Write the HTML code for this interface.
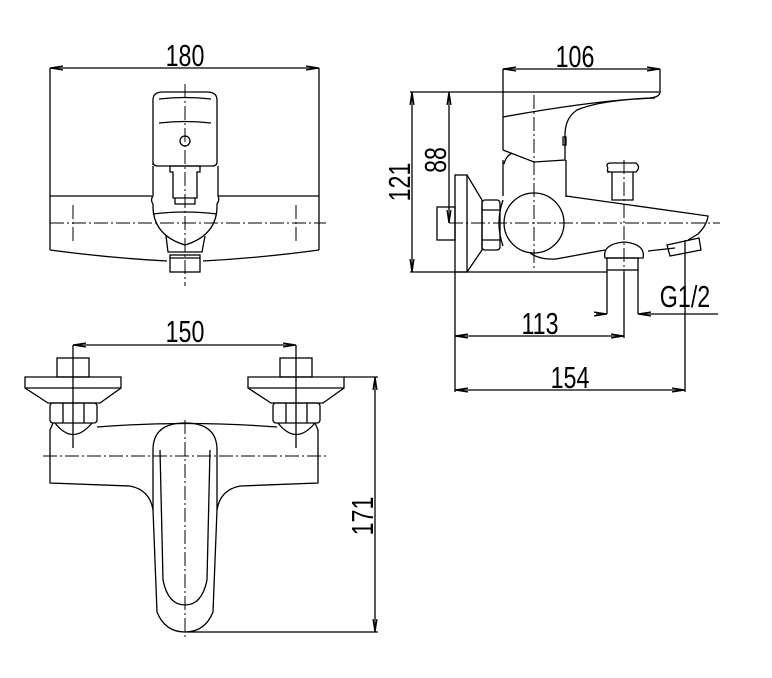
<!DOCTYPE html>
<html><head><meta charset="utf-8"><style>
html,body{margin:0;padding:0;background:#fff;}
svg{display:block;}
</style></head><body>
<svg width="772" height="678" viewBox="0 0 772 678" xmlns="http://www.w3.org/2000/svg">
<defs>
<marker id="a" viewBox="0 0 10 6" refX="10" refY="3" markerWidth="10" markerHeight="6" orient="auto-start-reverse"><path d="M0,1.5 L10,3 L0,4.5" fill="none" stroke="#000" stroke-width="1"/></marker>
</defs>
<g fill="none" stroke="#000" stroke-width="1.3">
<line x1="50" y1="68" x2="319" y2="68" marker-start="url(#a)" marker-end="url(#a)"/>
<line x1="50" y1="68" x2="50" y2="250"/><line x1="319" y1="68" x2="319" y2="250"/>
<line x1="50" y1="196" x2="152" y2="196"/><line x1="218" y1="196" x2="319" y2="196"/>
<path d="M50,250 Q110,258 167,261 M203,261 Q260,258 319,250"/>
<path d="M153,165 L153,100 Q153,92 163,92 L207,92 Q217,92 217,100 L217,162 Q217,166 212,166 L158,166 Q153,166 153,162"/>
<path d="M159,99 Q185,96 211,99 M159,123 Q185,120 211,123"/>
<circle cx="185" cy="141" r="5"/>
<path d="M153,166 L153,196 Q150,200 153,204 Q152,235 185,245 Q218,235 217,204 Q220,200 218,196 L218,166"/>
<path d="M170,166 L200,166 L200,172 L197,172 L197,198 L173,198 L173,172 L170,172 Z M175,198 L175,204 L195,204 L195,198"/>
<path d="M153,214 Q185,210 217,214"/>
<path d="M166,236 L168,252 L202,252 L205,236"/>
<rect x="170" y="255" width="30" height="17"/>
<line x1="170" y1="258" x2="200" y2="258"/>
<line x1="503" y1="69" x2="660" y2="69" marker-start="url(#a)" marker-end="url(#a)"/>
<line x1="503" y1="69" x2="503" y2="150"/><line x1="660" y1="69" x2="660" y2="92"/>
<line x1="410" y1="92" x2="660" y2="92"/>
<line x1="412" y1="92" x2="412" y2="272" marker-start="url(#a)" marker-end="url(#a)"/>
<line x1="449" y1="92" x2="449" y2="223" marker-start="url(#a)" marker-end="url(#a)"/>
<line x1="410" y1="272" x2="607" y2="272"/>
<path d="M503,117 Q590,101 650,98 Q660,97 660,92 M655,98 Q600,100 577,110 Q565,118 565,135 L565,160 L534,162 L503,150"/>
<rect x="563" y="137" width="3" height="8"/>
<path d="M503,160 L503,196 M566,160 L566,197 M504,164 Q506,156 512,153"/>
<circle cx="534" cy="223" r="30"/>
<path d="M503,200 Q495,223 503,246 M530,253 Q540,260 556,259"/>
<path d="M566,196 L708,216 Q707,225 698,234 L688,240 M675,248 L648,251 M605,250 L556,259"/>
<rect x="455" y="175" width="12" height="97"/>
<path d="M467,175 L482,200 L482,250 L467,272"/>
<rect x="482" y="200" width="18" height="50" rx="3"/>
<path d="M482,210 L500,210 M482,240 L500,240"/>
<rect x="437" y="207" width="18" height="33"/>
<path d="M607,172 L636,172 M612,172 L612,200 L633,200 L633,172 M608,168 Q605,163 611,163 L636,163 Q641,167 636,172 L611,172 Q606,172 608,168"/>
<path d="M605,258 Q602,244 624,242 Q646,244 643,258 Z"/>
<rect x="607" y="258" width="31" height="12"/>
<path d="M667,245 L699,238 L701,250 L670,256 Z"/>
<line x1="607" y1="270" x2="607" y2="314"/><line x1="638" y1="270" x2="638" y2="314"/>
<line x1="596" y1="314" x2="607" y2="314" marker-end="url(#a)"/>
<line x1="718" y1="314" x2="638" y2="314" marker-end="url(#a)"/>
<line x1="455" y1="272" x2="455" y2="392"/>
<line x1="624" y1="272" x2="624" y2="338"/>
<line x1="455" y1="336" x2="624" y2="336" marker-start="url(#a)" marker-end="url(#a)"/>
<line x1="685" y1="240" x2="685" y2="392"/>
<line x1="455" y1="390" x2="685" y2="390" marker-start="url(#a)" marker-end="url(#a)"/>
<rect x="57" y="358" width="32" height="19"/>
<path d="M25,377 L121,377 L121,388 L100,403 L48,403 L25,388 Z M25,388 L121,388"/>
<rect x="50" y="403" width="47" height="20" rx="3"/>
<path d="M63,403 L63,423 M84,403 L84,423"/>
<path d="M55,423 Q73,446 92,423"/>
<rect x="280" y="358" width="32" height="19"/>
<path d="M248,377 L344,377 L344,388 L323,403 L271,403 L248,388 Z M248,388 L344,388"/>
<rect x="273" y="403" width="47" height="20" rx="3"/>
<path d="M286,403 L286,423 M307,403 L307,423"/>
<path d="M278,423 Q296,446 315,423"/>
<path d="M97,427 Q185,420 277,427"/>
<path d="M53,423 L50,430 L50,483 L130,486 Q150,490 153,510 L157,612 Q165,632 185,632 Q205,632 213,612 L217,510 Q220,490 240,486 L318,483 L318,430 L315,423"/>
<path d="M153,510 L153,450 Q153,423 185,423 Q217,423 217,450 L217,510"/>
<path d="M160,450 L163,580 Q168,605 185,605 Q202,605 207,580 L210,450"/>
<line x1="185" y1="632" x2="378" y2="632"/>
<line x1="344" y1="377" x2="378" y2="377"/>
<line x1="375" y1="377" x2="375" y2="632" marker-start="url(#a)" marker-end="url(#a)"/>
<line x1="73" y1="345" x2="296" y2="345" marker-start="url(#a)" marker-end="url(#a)"/>
<line x1="73" y1="345" x2="73" y2="448"/><line x1="296" y1="345" x2="296" y2="448"/>
</g>
<g fill="none" stroke="#000" stroke-width="1" stroke-dasharray="14,3,2,3">
<line x1="50" y1="223" x2="326" y2="223"/>
<line x1="185" y1="84" x2="185" y2="286"/>
<line x1="73" y1="205" x2="73" y2="241"/><line x1="296" y1="205" x2="296" y2="241"/>
<line x1="449" y1="223" x2="720" y2="223"/>
<line x1="534" y1="95" x2="534" y2="268"/>
<line x1="624" y1="160" x2="624" y2="272"/>
<line x1="43" y1="456" x2="327" y2="456"/>
<line x1="185" y1="420" x2="185" y2="638"/>
</g>
<g font-family="Liberation Sans, sans-serif" font-size="31" fill="#000" text-anchor="middle">
<text transform="translate(185,66) scale(0.75,1)">180</text>
<text transform="translate(575,67) scale(0.75,1)">106</text>
<text transform="translate(185,342) scale(0.75,1)">150</text>
<text transform="translate(540,334) scale(0.75,1)">113</text>
<text transform="translate(570,388) scale(0.75,1)">154</text>
<text transform="translate(685,307) scale(0.75,1)">G1/2</text>
<text transform="translate(410,182) rotate(-90) scale(0.75,1)">121</text>
<text transform="translate(446,160) rotate(-90) scale(0.75,1)">88</text>
<text transform="translate(373,516) rotate(-90) scale(0.75,1)">171</text>
</g>
</svg>
</body></html>
